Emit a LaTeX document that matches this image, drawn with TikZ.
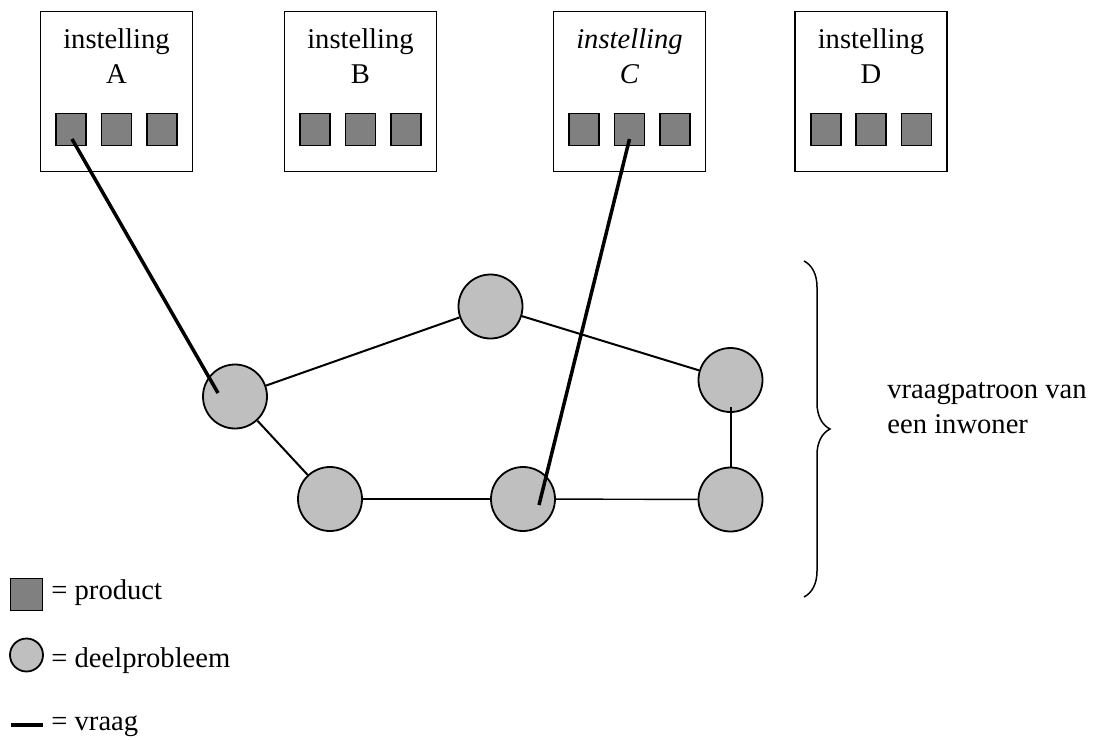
\documentclass[tikz,border=0pt]{standalone}
\usepackage{fontspec}
\setmainfont{Liberation Serif}
\usepackage{tikz}
\usetikzlibrary{calc, decorations.pathreplacing}

\begin{document}
\begin{tikzpicture}[x=0.5pt, y=-0.5pt, font=\fontsize{14.3}{17.5}\selectfont,
    instbox/.style={draw, line width=0.9pt, minimum width=76pt, minimum height=80pt, inner sep=0pt},
    prod/.style={draw, line width=0.9pt, fill=black!50, minimum width=15pt, minimum height=16pt, inner sep=0pt},
    deel/.style={circle, draw, line width=0.9pt, fill=black!25, minimum size=32pt, inner sep=0pt},
    link/.style={line width=1pt},
    vraag/.style={line width=1.75pt},
    legtext/.style={anchor=base west, inner sep=0pt}]
    \useasboundingbox (0,0) rectangle (1094,740);

    % Instellingen
    \node[instbox] (instA) at (116.5,91.5) {};
    \node[instbox] (instB) at (360.5,91.5) {};
    \node[instbox] (instC) at (629.5,91.5) {};
    \node[instbox] (instD) at (871,91.5) {};
    \node[anchor=base, align=center, inner sep=0pt] (labA) at (116.5,83) {instelling\\A};
    \node[anchor=base, align=center, inner sep=0pt] (labB) at (360.5,83) {instelling\\B};
    \node[anchor=base, align=center, inner sep=0pt] (labC) at (629.5,83) {\textit{instelling}\\\textit{C}};
    \node[anchor=base, align=center, inner sep=0pt] (labD) at (871,83) {instelling\\D};

    % Producten
    \node[prod] (A1) at (71,129.5) {};
    \node[prod] (A2) at (116.5,129.5) {};
    \node[prod] (A3) at (162,129.5) {};
    \node[prod] (B1) at (315,129.5) {};
    \node[prod] (B2) at (360.5,129.5) {};
    \node[prod] (B3) at (406,129.5) {};
    \node[prod] (C1) at (584,129.5) {};
    \node[prod] (C2) at (629.5,129.5) {};
    \node[prod] (C3) at (675,129.5) {};
    \node[prod] (D1) at (826,129.5) {};
    \node[prod] (D2) at (871,129.5) {};
    \node[prod] (D3) at (916.5,129.5) {};

    % Deelproblemen
    \node[deel] (p1) at (235,396.5) {};
    \node[deel] (p2) at (490.5,306.5) {};
    \node[deel] (p3) at (730.5,380) {};
    \node[deel] (p4) at (330,499) {};
    \node[deel] (p5) at (523,499) {};
    \node[deel] (p6) at (730.5,499.5) {};

    \draw[link] (p1) -- (p2);
    \draw[link] (p2) -- (p3);
    \draw[link] (p1) -- (p4);
    \draw[link, line width=1.2pt] (p4) -- (p5);
    \draw[link, line width=0.7pt] (p5) -- (p6);
    \draw[link] ($(p3.center)+(0,27)$) -- (p6);

    % Vragen
    \draw[vraag] ($(A1.center)+(1,9.5)$) -- ($(p1.center)+(-17,-3.5)$);
    \draw[vraag] ($(C2.center)+(0,9.5)$) -- ($(p5.center)+(16,6)$);

    % Accolade
    \coordinate (brTop) at (804,261);
    \coordinate (brBot) at (804,597);
    \draw[decorate, decoration={brace, amplitude=13pt}, line width=0.75pt] (brTop) -- (brBot);
    \node[anchor=base west, align=left, inner sep=0pt] (patroon) at (887,433) {vraagpatroon van\\een inwoner};

    % Legenda
    \node[prod, minimum width=16pt, minimum height=16pt] (legP) at (26.5,594.5) {};
    \node[legtext] (legPtxt) at (51,599) {= product};
    \node[deel, minimum size=16.5pt] (legD) at (26.5,655) {};
    \node[legtext] (legDtxt) at (51,667) {= deelprobleem};
    \coordinate (legV0) at (11,725);
    \coordinate (legV1) at (43,725);
    \draw[vraag] (legV0) -- (legV1);
    \node[legtext] (legVtxt) at (51,730) {= vraag};
\end{tikzpicture}
\end{document}
